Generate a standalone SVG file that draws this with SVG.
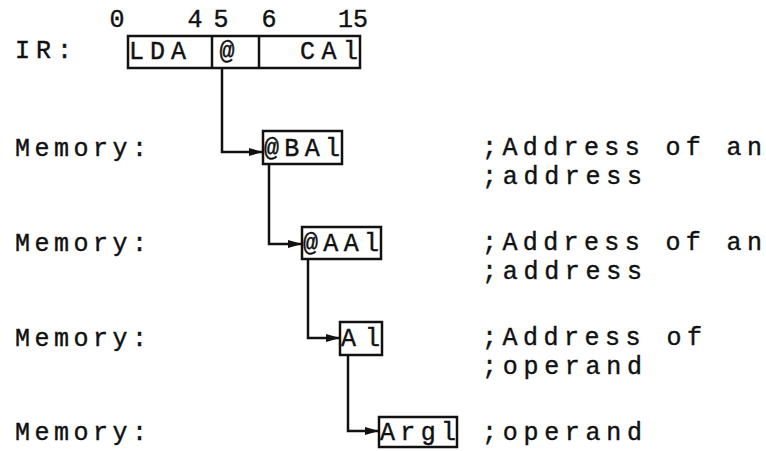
<svg xmlns="http://www.w3.org/2000/svg" width="766" height="451" viewBox="0 0 766 451">
<style>
text{font-family:"Liberation Mono","Courier New",monospace;font-size:25px;fill:#111;stroke:#111;stroke-width:0.4}
.box{fill:#fff;stroke:#111;stroke-width:2.5}
.conn{fill:none;stroke:#111;stroke-width:2.5}
</style>
<defs>
<marker id="ah" viewBox="0 0 14 10" refX="13" refY="5" markerWidth="14" markerHeight="10" markerUnits="userSpaceOnUse" orient="auto">
<path d="M0,1 L14,5 L0,9 Z" fill="#111"/>
</marker>
</defs>
<g id="header">
<text x="117" y="27" text-anchor="middle">0</text>
<text x="195" y="27" text-anchor="middle">4</text>
<text x="221" y="27" text-anchor="middle">5</text>
<text x="269" y="27" text-anchor="middle">6</text>
<text x="353" y="27" text-anchor="middle">15</text>
</g>
<g id="labels">
<text x="15" y="58" textLength="57" lengthAdjust="spacing">IR:</text>
<text x="15" y="156" textLength="132" lengthAdjust="spacing">Memory:</text>
<text x="15" y="251" textLength="132" lengthAdjust="spacing">Memory:</text>
<text x="15" y="346" textLength="132" lengthAdjust="spacing">Memory:</text>
<text x="15" y="440" textLength="132" lengthAdjust="spacing">Memory:</text>
</g>
<g id="ir">
<rect class="box" x="128" y="36" width="232" height="32"/>
<line class="conn" x1="212" y1="36" x2="212" y2="68"/>
<line class="conn" x1="259" y1="36" x2="259" y2="68"/>
<text x="129" y="59" textLength="57" lengthAdjust="spacing">LDA</text>
<text x="227" y="59" text-anchor="middle">@</text>
<text x="300" y="59" textLength="58" lengthAdjust="spacing">CAl</text>
</g>
<g id="connectors">
<path class="conn" d="M222,68 V152 H262" marker-end="url(#ah)"/>
<path class="conn" d="M269,164 V244 H301" marker-end="url(#ah)"/>
<path class="conn" d="M308,259 V338 H339" marker-end="url(#ah)"/>
<path class="conn" d="M348,355 V431 H378" marker-end="url(#ah)"/>
</g>
<g id="bA1">
<rect class="box" x="263" y="131" width="79" height="33"/>
<text x="264" y="156" textLength="76" lengthAdjust="spacing">@BAl</text>
</g>
<g id="aA1">
<rect class="box" x="302" y="227" width="79" height="32"/>
<text x="303" y="251" textLength="76" lengthAdjust="spacing">@AAl</text>
</g>
<g id="a1">
<rect class="box" x="340" y="322" width="42" height="33"/>
<text x="341" y="346" textLength="39" lengthAdjust="spacing">Al</text>
</g>
<g id="arg1">
<rect class="box" x="379" y="417" width="78" height="30"/>
<text x="380" y="440" textLength="76" lengthAdjust="spacing">Argl</text>
</g>
<g id="comments">
<text x="482" y="155" textLength="280" lengthAdjust="spacing">;Address of an</text>
<text x="482" y="184" textLength="160" lengthAdjust="spacing">;address</text>
<text x="482" y="250" textLength="280" lengthAdjust="spacing">;Address of an</text>
<text x="482" y="279" textLength="160" lengthAdjust="spacing">;address</text>
<text x="482" y="345" textLength="220" lengthAdjust="spacing">;Address of</text>
<text x="482" y="374" textLength="160" lengthAdjust="spacing">;operand</text>
<text x="482" y="440" textLength="160" lengthAdjust="spacing">;operand</text>
</g>
</svg>
